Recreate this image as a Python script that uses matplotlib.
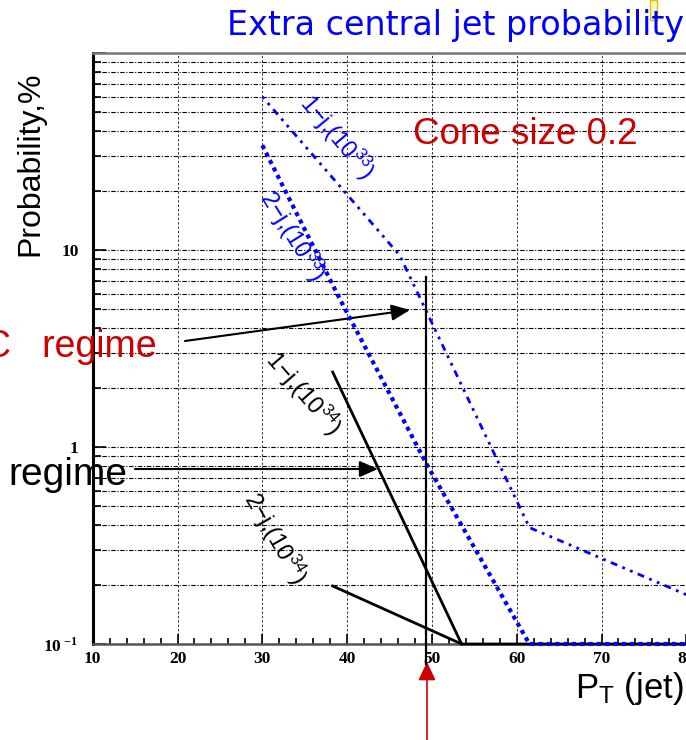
import matplotlib
matplotlib.use("Agg")
import matplotlib.pyplot as plt
from matplotlib.ticker import FixedLocator, MultipleLocator, LogLocator, NullFormatter
from matplotlib.patches import Rectangle

plt.rcParams['mathtext.fontset'] = 'custom'
plt.rcParams['mathtext.rm'] = 'Liberation Sans'
plt.rcParams['mathtext.it'] = 'Liberation Sans:italic'
plt.rcParams['mathtext.bf'] = 'Liberation Serif:bold'

W, H = 686, 740

# extra jet probability (%) vs jet pT threshold
pt_1j_33 = [30, 46.2, 61.5, 80]
prob_1j_33 = [60, 9.4, 0.39, 0.178]
pt_2j_33 = [30, 39, 49.3, 61.5, 80]
prob_2j_33 = [34, 5.8, 0.83, 0.1, 0.1]
pt_1j_34 = [38.3, 53.5, 80]
prob_1j_34 = [2.4, 0.1, 0.1]
pt_2j_34 = [38.3, 53.5]
prob_2j_34 = [0.197, 0.1]

x_ticks = [10, 20, 30, 40, 50, 60, 70, 80]
y_ticks = [0.1, 1, 10, 100]
y_labels = [r'$\mathbf{10}^{\ \mathbf{-1}}$', '1', '10', '']
cut_pt = 49.3


def fpos(x, y):
    # pixel position from the top-left corner -> figure fraction
    return x / W, 1 - y / H


fig = plt.figure(figsize=(W / 100, H / 100), dpi=100)
ax = fig.add_axes([92.7 / W, (H - 644) / H, 593.6 / W, 591 / H])
ax.set_yscale('log')
ax.set_xlim(10, 80)
ax.set_ylim(0.1, 100)

ax.set_xticks(x_ticks)
ax.set_xticklabels([str(v) for v in x_ticks], fontfamily='Liberation Serif',
                   fontweight='bold', fontsize=12.5)
ax.xaxis.set_minor_locator(MultipleLocator(2))
ax.yaxis.set_major_locator(FixedLocator(y_ticks))
ax.set_yticklabels(y_labels, fontfamily='Liberation Serif', fontweight='bold', fontsize=12.5)
ax.yaxis.set_minor_locator(LogLocator(base=10, subs=range(2, 10)))
ax.yaxis.set_minor_formatter(NullFormatter())

ax.tick_params(axis='x', which='major', direction='in', length=7, width=1.2, pad=5)
ax.tick_params(axis='x', which='minor', direction='in', length=4, width=1.2)
ax.tick_params(axis='y', which='major', direction='in', length=9, width=1.2, pad=10)
ax.tick_params(axis='y', which='minor', direction='in', length=6, width=1.2)

ax.grid(axis='y', which='both', color='black', linewidth=0.8, linestyle=(0, (4, 1.5, 1, 1.5)))
ax.grid(axis='x', which='major', color='#333333', linewidth=0.7, linestyle=(0, (2.5, 2)))

ax.spines['left'].set_linewidth(2.2)
ax.spines['left'].set_color('black')
ax.spines['bottom'].set_linewidth(1.8)
ax.spines['bottom'].set_color('#555555')
ax.spines['top'].set_linewidth(1.8)
ax.spines['top'].set_color('#777777')
ax.spines['right'].set_visible(False)

# high luminosity curves (solid black)
ax.plot(pt_1j_34, prob_1j_34, color='black', lw=2, clip_on=False, zorder=3)
ax.plot(pt_2j_34, prob_2j_34, color='black', lw=2, clip_on=False, zorder=3)
# low luminosity curves (blue)
ax.plot(pt_1j_33, prob_1j_33, color='#0000ff', lw=2, linestyle=(0, (1, 2, 1, 2, 2.5, 2)),
        clip_on=False, zorder=4)
ax.plot(pt_2j_33, prob_2j_33, color='#0000ff', lw=3, linestyle=(0, (1, 1)),
        clip_on=False, zorder=4)

# pT cut marker
ax.plot([cut_pt, cut_pt], [7.3, 0.079], color='black', lw=1.6, clip_on=False, zorder=5)

# curve labels
lab_kw = dict(ha='center', va='center', rotation_mode='anchor', fontfamily='Liberation Sans')
fig.text(*fpos(337, 137), r'1$-$j,(10$^{33}$)', rotation=-50, color='#0000ff', fontsize=17, **lab_kw)
fig.text(*fpos(292, 236), r'2$-$j,(10$^{33}$)', rotation=-58, color='#0000ff', fontsize=17, **lab_kw)
fig.text(*fpos(303, 393), r'1$-$j,(10$^{34}$)', rotation=-49, color='black', fontsize=17, **lab_kw)
fig.text(*fpos(275, 538), r'2$-$j,(10$^{34}$)', rotation=-60, color='black', fontsize=17, **lab_kw)

# arrows
arrow_black = dict(arrowstyle='-|>,head_length=0.8,head_width=0.35', color='black',
                   lw=1.5, mutation_scale=14, shrinkA=0, shrinkB=0)
ax.annotate('', xy=(410, H - 310), xytext=(185, H - 341), xycoords='figure pixels',
            textcoords='figure pixels', arrowprops=arrow_black, annotation_clip=False)
ax.annotate('', xy=(378, H - 469), xytext=(135, H - 469), xycoords='figure pixels',
            textcoords='figure pixels', arrowprops=arrow_black, annotation_clip=False)
arrow_red = dict(arrowstyle='-|>,head_length=0.8,head_width=0.38', color='#cc0000',
                 lw=1.2, mutation_scale=14, shrinkA=0, shrinkB=0)
ax.annotate('', xy=(427, H - 662), xytext=(427, -5), xycoords='figure pixels',
            textcoords='figure pixels', arrowprops=arrow_red, annotation_clip=False)

# texts
fig.text(*fpos(684, 25), 'Extra central jet probability', ha='right', va='center',
         color='#0000ff', fontsize=24, fontfamily='DejaVu Sans')
fig.text(*fpos(30, 164), 'Probability,%', rotation=90, ha='center', va='center',
         fontsize=23, fontfamily='Liberation Sans')
fig.text(*fpos(575, 698), r'P$_{\mathrm{T}}$ (jet)', ha='left', va='baseline',
         fontsize=25, fontfamily='Liberation Sans')
fig.text(*fpos(413, 135), 'Cone size 0.2', ha='left', va='center', color='#cc0000',
         fontsize=26.5, fontfamily='Liberation Sans')
fig.text(*fpos(157, 347), 'C   regime', ha='right', va='center', color='#cc0000',
         fontsize=27, fontfamily='Liberation Sans')
fig.text(*fpos(127, 475), 'regime', ha='right', va='center', color='black',
         fontsize=28, fontfamily='Liberation Sans')

# small marker box in the top-right corner
fig.patches.append(Rectangle(fpos(650, 20), 7 / W, 20 / H, transform=fig.transFigure,
                             facecolor='#f4f4c8', edgecolor='#d8c800', lw=1))

fig.savefig('out.png', dpi=100)
